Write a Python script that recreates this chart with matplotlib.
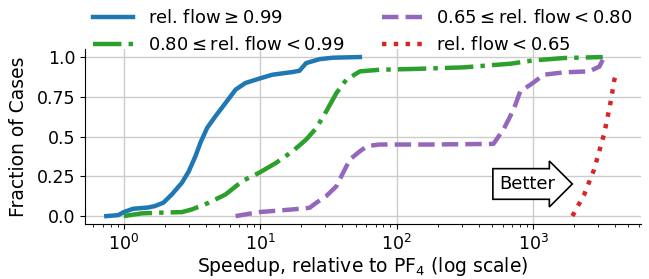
import matplotlib
matplotlib.use('Agg')
import matplotlib.pyplot as plt

# ── DATA (speedup, fraction of cases) ────────────────────────────────────────
blue_x = [0.745, 0.91, 1.0, 1.17, 1.51, 1.69, 1.95, 2.25, 2.67, 2.99, 3.35, 3.64,
          4.08, 4.7, 5.57, 6.6, 7.8, 9.8, 12.3, 17.3, 19.4, 21.7, 27.3, 34.2, 53.8]
blue_y = [0.0, 0.006, 0.025, 0.046, 0.054, 0.063, 0.084, 0.136, 0.21, 0.28, 0.376, 0.46,
          0.554, 0.628, 0.711, 0.795, 0.837, 0.864, 0.889, 0.906, 0.914, 0.962, 0.987, 0.996, 1.0]

green_x = [1.0, 1.35, 1.79, 2.67, 3.16, 4.2, 5.57, 7.4, 9.8, 13.1, 17.3, 21.7, 25.8,
           30.5, 36.2, 42.8, 53.8, 74.5, 131, 307, 680, 1010, 1690, 3240]
green_y = [0.0, 0.017, 0.021, 0.025, 0.042, 0.084, 0.136, 0.22, 0.272, 0.335, 0.408, 0.481, 0.554,
           0.659, 0.774, 0.858, 0.91, 0.92, 0.925, 0.935, 0.958, 0.979, 0.994, 1.0]

purple_x = [6.6, 9.8, 17.3, 23, 25.8, 30.5, 36.2, 40.5, 45.4, 53.8, 61, 74.5, 175, 512,
            607, 720, 806, 956, 1200, 1690, 2580, 3060, 3240]
purple_y = [0.0, 0.025, 0.042, 0.052, 0.084, 0.126, 0.188, 0.272, 0.356, 0.408, 0.44, 0.45, 0.45, 0.454,
            0.545, 0.67, 0.785, 0.826, 0.889, 0.904, 0.91, 0.94, 0.983]

red_x = [1940, 2370, 2800, 3330, 3730, 3940, 4100]
red_y = [0.0, 0.136, 0.293, 0.523, 0.732, 0.858, 0.9]

labels = [r"rel. flow$\geq$0.99", r"0.80$\leq$rel. flow$<$0.99",
          r"0.65$\leq$rel. flow$<$0.80", r"rel. flow$<$0.65"]

plt.rcParams.update({"font.family": "DejaVu Sans", "mathtext.fontset": "dejavusans"})

fig = plt.figure(figsize=(6.49, 2.79), dpi=100)
ax = fig.add_axes([0.131, 0.197, 0.857, 0.627])

lw = 3.2
ax.plot(blue_x, blue_y, color="#1f77b4", lw=lw, ls="-", label=labels[0])
ax.plot(green_x, green_y, color="#2ca02c", lw=lw, ls="-.", label=labels[1])
ax.plot(purple_x, purple_y, color="#9467bd", lw=lw, ls="--", label=labels[2])
ax.plot(red_x, red_y, color="#d62728", lw=lw, ls=":", label=labels[3])

ax.set_xscale("log")
ax.set_xlim(0.52, 6200)
ax.set_ylim(-0.05, 1.05)
ax.set_yticks([0, 0.25, 0.5, 0.75, 1.0])
ax.set_yticklabels(["0.0", "0.25", "0.5", "0.75", "1.0"])
ax.grid(True, which="major", color="#cccccc", lw=1)
ax.set_axisbelow(True)
for s in ["top", "right"]:
    ax.spines[s].set_visible(False)
ax.tick_params(axis="both", labelsize=12.5)

ax.set_xlabel(r"Speedup, relative to PF$_4$ (log scale)", fontsize=13.5, labelpad=0.5)
ax.set_ylabel("Fraction of Cases", fontsize=13.5, labelpad=6)

ax.text(0.795, 0.229, "Better", transform=ax.transAxes, fontsize=13,
        ha="center", va="center",
        bbox=dict(boxstyle="rarrow,pad=0.35", fc="white", ec="black", lw=1.2))

fig.legend(*ax.get_legend_handles_labels(), loc="upper center",
           bbox_to_anchor=(0.131 + 0.857 / 2, 1.025), ncol=2, frameon=False,
           fontsize=13, handlelength=2.2, columnspacing=2.1, labelspacing=0.5)

fig.savefig("out.png", dpi=100)
